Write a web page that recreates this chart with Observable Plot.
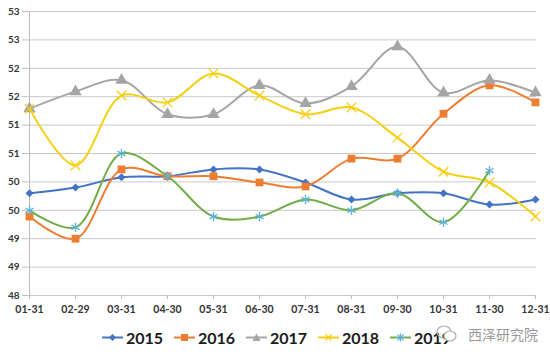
<!DOCTYPE html>
<html><head><meta charset="utf-8">
<script src="https://cdn.jsdelivr.net/npm/d3@7"></script>
<script src="https://cdn.jsdelivr.net/npm/@observablehq/plot@0.6"></script>
<style>
body{margin:0;background:#fff;font-family:Lato,"Liberation Sans",sans-serif;}
#wrap{position:relative;width:550px;height:358px;}
#legend{position:absolute;left:0;top:322px;width:550px;height:30px;}
.item{position:absolute;top:0;height:30px;display:flex;align-items:center;}
.item span{font-size:16px;font-weight:bold;color:#1a1a1a;margin-left:3px;}
#wm{position:absolute;left:436px;top:324px;display:flex;align-items:center;color:#9a9a9a;font-family:"Noto Sans CJK SC",sans-serif;font-size:14px;}
</style></head>
<body><div id="wrap"><div id="chart"></div><div id="legend"></div>
<div id="wm"><svg width="22" height="20" viewBox="0 0 22 20"><ellipse cx="8" cy="8" rx="7" ry="6" fill="none" stroke="#aaa" stroke-width="1.2"/><ellipse cx="14" cy="12" rx="6" ry="5" fill="#fff" stroke="#aaa" stroke-width="1.2"/></svg><span style="margin-left:10px">西泽研究院</span></div>
</div>
<script>
const dates = ["01-31","02-29","03-31","04-30","05-31","06-30","07-31","08-31","09-30","10-31","11-30","12-31"];
const y2015 = [49.80,49.90,50.08,50.10,50.22,50.22,49.99,49.69,49.80,49.80,49.60,49.69];
const y2016 = [49.39,49.00,50.22,50.10,50.10,49.99,49.92,50.41,50.41,51.20,51.70,51.40];
const y2017 = [51.29,51.59,51.79,51.19,51.19,51.70,51.38,51.68,52.38,51.57,51.79,51.57];
const y2018 = [51.29,50.29,51.52,51.40,51.91,51.52,51.19,51.31,50.78,50.18,49.99,49.39];
const y2019 = [49.50,49.20,50.50,50.10,49.39,49.39,49.69,49.50,49.80,49.29,50.20];
const seriesNames = ["2015","2016","2017","2018","2019"];
const yTicks = [48,48.5,49,49.5,50,50.5,51,51.5,52,52.5,53];
const yTickLabels = ["48","49","49","50","50","51","51","52","52","53","53"];

const series = [
  {name:"2015", values:y2015, line:"#4472C4", symbol:"diamond2", fill:"#4472C4", stroke:"none", r:3.6},
  {name:"2016", values:y2016, line:"#ED7D31", symbol:"square", fill:"#ED7D31", stroke:"none", r:4.4},
  {name:"2017", values:y2017, line:"#A5A5A5", symbol:"triangle", fill:"#A5A5A5", stroke:"none", r:4.6},
  {name:"2018", values:y2018, line:"#F5CF12", symbol:"times", fill:"none", stroke:"#F5CF12", r:4.4},
  {name:"2019", values:y2019, line:"#70AD47", symbol:"asterisk", fill:"none", stroke:"#5BB3DB", r:4.4}
];
const rows = s => s.values.map((v,i)=>({date:dates[i], value:v, series:s.name}));

const marks = [
  Plot.gridY(yTicks, {stroke:"#c9c9c9", strokeOpacity:1, strokeWidth:1}),
  Plot.ruleX([dates[0]], {stroke:"#bdbdbd", strokeWidth:1}),
  Plot.axisY(yTicks, {tickFormat:(d,i)=>yTickLabels[i], tickSize:5, tickPadding:3, stroke:"#bdbdbd", label:null, fontSize:10, fontWeight:"bold", fill:"#333"}),
  Plot.axisX({tickSize:4, tickPadding:6, stroke:"#bdbdbd", label:null, fontSize:10.5, fontWeight:"bold", fill:"#333"})
];
for (const s of series) {
  marks.push(Plot.line(rows(s), {x:"date", y:"value", curve:"catmull-rom", stroke:s.line, strokeWidth:2}));
  marks.push(Plot.dot(rows(s), {x:"date", y:"value", symbol:s.symbol, fill:s.fill, stroke:s.stroke, strokeWidth:1.3, r:s.r}));
}

const chart = Plot.plot({
  width:550, height:322,
  marginLeft:27, marginRight:14, marginTop:11, marginBottom:27,
  x:{type:"point", domain:dates, padding:0},
  y:{domain:[48,53]},
  style:{fontFamily:"Lato, 'Liberation Sans', sans-serif", background:"#fff", overflow:"visible"},
  marks
});
document.getElementById("chart").appendChild(chart);

const legend = document.getElementById("legend");
const symPaths = {
  "2015":'<path d="M10.5,2 L14,5.5 L10.5,9 L7,5.5Z" fill="#4472C4"/>',
  "2016":'<rect x="7" y="2" width="7" height="7" fill="#ED7D31"/>',
  "2017":'<path d="M10.5,1.5 L14.5,9 L6.5,9Z" fill="#A5A5A5"/>',
  "2018":'<path d="M7.5,2.5 L13.5,8.5 M13.5,2.5 L7.5,8.5" stroke="#F5CF12" stroke-width="1.3"/>',
  "2019":'<path d="M7.5,2.5 L13.5,8.5 M13.5,2.5 L7.5,8.5 M10.5,1.5 L10.5,9.5 M6.5,5.5 L14.5,5.5" stroke="#5BB3DB" stroke-width="1.1"/>'
};
series.forEach((s,i)=>{
  const d = document.createElement("div");
  d.className = "item";
  d.style.left = (102 + i*72) + "px";
  d.innerHTML = `<svg width="21" height="11"><line x1="0" x2="21" y1="5.5" y2="5.5" stroke="${s.line}" stroke-width="2"/>${symPaths[s.name]}</svg><span>${seriesNames[i]}</span>`;
  legend.appendChild(d);
});
</script></body></html>
